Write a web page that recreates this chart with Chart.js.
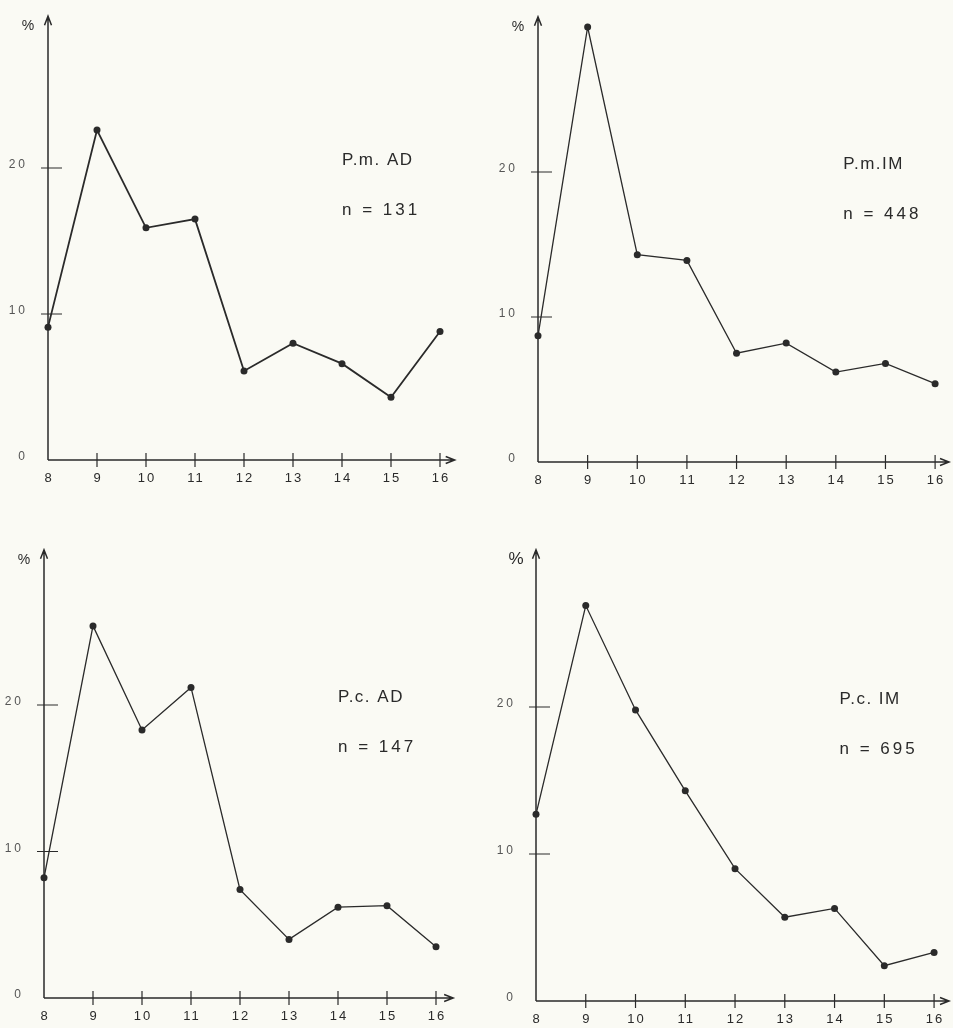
<!DOCTYPE html>
<html>
<head>
<meta charset="utf-8">
<script src="https://cdn.jsdelivr.net/npm/chart.js@4"></script>
<style>
  html, body { margin: 0; padding: 0; background: #fafaf4; }
  #page { position: relative; width: 953px; height: 1028px; overflow: hidden; }
  canvas { position: absolute; }
</style>
</head>
<body>
<div id="page">
  <canvas id="pmAD"></canvas>
  <canvas id="pmIM"></canvas>
  <canvas id="pcAD"></canvas>
  <canvas id="pcIM"></canvas>
</div>
<script>
// age classes on the x axis
const ages = [8, 9, 10, 11, 12, 13, 14, 15, 16];
const yTicks = [0, 10, 20];

// percentage per age class
const pmAD = [9.1, 22.6, 15.9, 16.5, 6.1, 8.0, 6.6, 4.3, 8.8];
const pmIM = [8.7, 30.0, 14.3, 13.9, 7.5, 8.2, 6.2, 6.8, 5.4];
const pcAD = [8.2, 25.4, 18.3, 21.2, 7.4, 4.0, 6.2, 6.3, 3.5];
const pcIM = [12.7, 26.9, 19.8, 14.3, 9.0, 5.7, 6.3, 2.4, 3.3];

const names = ["P.m. AD", "P.m.IM", "P.c. AD", "P.c. IM"];
const counts = [131, 448, 147, 695];

// panel boxes and axis origin / scale in page pixels
const panels = [
  { id: "pmAD", data: pmAD, left: 0, top: 0, w: 476, h: 510, ox: 48, oy: 460, dx: 49, dy: 14.6, xMax: 16.3, yMax: 30.4, lw: 1.8, labX: 14.0, pct: 14 },
  { id: "pmIM", data: pmIM, left: 476, top: 0, w: 477, h: 510, ox: 538, oy: 462, dx: 50.2, dy: 14.5, xMax: 16.28, yMax: 30.7, lw: 1.3, labX: 14.15, pct: 14 },
  { id: "pcAD", data: pcAD, left: 0, top: 515, w: 476, h: 513, ox: 44, oy: 998, dx: 49, dy: 14.65, xMax: 16.35, yMax: 30.6, lw: 1.3, labX: 14.0, pct: 14 },
  { id: "pcIM", data: pcIM, left: 476, top: 515, w: 477, h: 513, ox: 536, oy: 1001, dx: 50, dy: 14.7, xMax: 16.3, yMax: 30.7, lw: 1.3, labX: 14.1, pct: 17 }
];

const ink = "#2a2a2a";
const font = "'Liberation Sans', Arial, sans-serif";

// hand-drawn style axes: arrows, crossing ticks, spaced labels
const axesPlugin = {
  id: "axesPlugin",
  beforeDatasetsDraw(chart, args, opts) {
    const ctx = chart.ctx;
    const x = chart.scales.x, y = chart.scales.y;
    const x0 = x.getPixelForValue(8), y0 = y.getPixelForValue(0);
    const xEnd = x.right, yEnd = y.top;
    ctx.save();
    ctx.strokeStyle = ink;
    ctx.fillStyle = ink;
    ctx.lineWidth = 1.5;
    ctx.beginPath();
    ctx.moveTo(x0, y0); ctx.lineTo(x0, yEnd);
    ctx.moveTo(x0, y0); ctx.lineTo(xEnd, y0);
    // arrow heads
    ctx.moveTo(x0 - 3.5, yEnd + 9); ctx.lineTo(x0, yEnd); ctx.lineTo(x0 + 3.5, yEnd + 9);
    ctx.moveTo(xEnd - 9, y0 - 3.5); ctx.lineTo(xEnd, y0); ctx.lineTo(xEnd - 9, y0 + 3.5);
    ctx.stroke();

    ctx.lineWidth = 1.2;
    ctx.beginPath();
    ages.slice(1).forEach(a => {
      const px = x.getPixelForValue(a);
      ctx.moveTo(px, y0 - 7); ctx.lineTo(px, y0 + 7);
    });
    yTicks.slice(1).forEach(v => {
      const py = y.getPixelForValue(v);
      ctx.moveTo(x0 - 7, py); ctx.lineTo(x0 + 14, py);
    });
    ctx.stroke();

    ctx.letterSpacing = "3px";
    ctx.fillStyle = "#555";
    ctx.font = "12px " + font;
    ctx.textAlign = "right";
    ctx.textBaseline = "middle";
    yTicks.forEach(v => ctx.fillText(String(v), x0 - 20, y.getPixelForValue(v) - 3));

    ctx.fillStyle = ink;
    ctx.letterSpacing = "2px";
    ctx.font = "13px " + font;
    ctx.textAlign = "center";
    ages.forEach(a => ctx.fillText(String(a), x.getPixelForValue(a) + 1, y0 + 18));

    ctx.letterSpacing = "0px";
    ctx.font = opts.pct + "px " + font;
    ctx.fillText("%", x0 - 20, yEnd + 10);

    ctx.textAlign = "left";
    ctx.font = "17px " + font;
    ctx.letterSpacing = "1.5px";
    ctx.fillText(opts.name, x.getPixelForValue(opts.labX), y.getPixelForValue(20.5));
    ctx.letterSpacing = "3px";
    ctx.fillText("n = " + opts.n, x.getPixelForValue(opts.labX), y.getPixelForValue(17.1));
    ctx.restore();
  }
};

panels.forEach((p, i) => {
  const canvas = document.getElementById(p.id);
  canvas.width = p.w;
  canvas.height = p.h;
  canvas.style.left = p.left + "px";
  canvas.style.top = p.top + "px";

  const padLeft = p.ox - p.left;
  const padTop = p.oy - p.yMax * p.dy - p.top;
  const padRight = p.left + p.w - (p.ox + (p.xMax - 8) * p.dx);
  const padBottom = p.top + p.h - p.oy;

  new Chart(canvas.getContext("2d"), {
    type: "line",
    data: {
      datasets: [{
        data: ages.map((a, k) => ({ x: a, y: p.data[k] })),
        borderColor: ink,
        backgroundColor: ink,
        borderWidth: p.lw,
        pointRadius: 3.5,
        pointBorderWidth: 0,
        tension: 0,
        clip: false
      }]
    },
    options: {
      responsive: false,
      animation: false,
      layout: { padding: { left: padLeft, top: padTop, right: padRight, bottom: padBottom } },
      scales: {
        x: { type: "linear", min: 8, max: p.xMax, display: false },
        y: { min: 0, max: p.yMax, display: false }
      },
      plugins: {
        legend: { display: false },
        tooltip: { enabled: false },
        axesPlugin: { name: names[i], n: counts[i], labX: p.labX, pct: p.pct }
      }
    },
    plugins: [axesPlugin]
  });
});
</script>
</body>
</html>
